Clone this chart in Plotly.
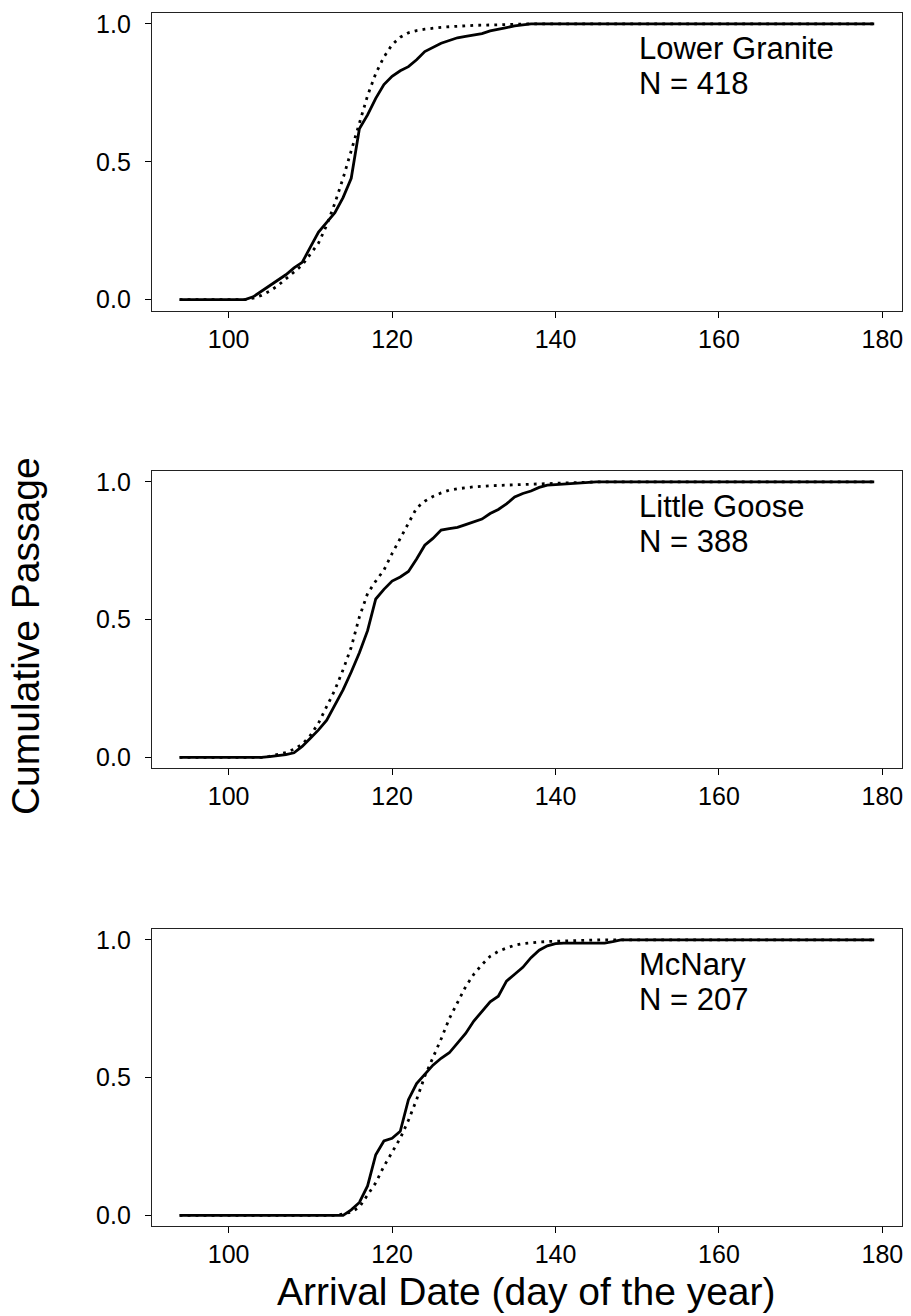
import plotly.graph_objects as go

# ---------------- data ----------------
stations = ["Lower Granite", "Little Goose", "McNary"]
sample_sizes = [418, 388, 207]

# Lower Granite
lg_obs_days = [94, 102, 103, 104, 105, 106, 107, 108, 109, 110, 111, 112, 113, 114, 115, 116,
               117, 118, 119, 120, 121, 122, 123, 124, 125, 126, 127, 128, 129, 130, 131, 132,
               133, 134, 135, 136, 137, 179]
lg_obs = [0, 0, 0.01, 0.03, 0.05, 0.07, 0.09, 0.115, 0.135, 0.19, 0.245, 0.28, 0.315, 0.37, 0.44,
          0.62, 0.67, 0.73, 0.78, 0.81, 0.83, 0.845, 0.87, 0.9, 0.915, 0.93, 0.94, 0.95, 0.955,
          0.96, 0.965, 0.975, 0.98, 0.987, 0.993, 0.997, 1.0, 1.0]
lg_fit_days = [94, 102, 103, 104, 105, 106, 107, 108, 109, 110, 111, 112, 113, 114, 115, 116,
               117, 118, 119, 120, 121, 122, 123, 124, 125, 126, 127, 128, 130, 133, 136, 179]
lg_fit = [0, 0, 0.005, 0.015, 0.03, 0.05, 0.075, 0.1, 0.125, 0.165, 0.205, 0.27, 0.35, 0.44,
          0.54, 0.645, 0.74, 0.82, 0.88, 0.925, 0.952, 0.968, 0.976, 0.981, 0.985, 0.988, 0.99,
          0.992, 0.995, 0.997, 1.0, 1.0]

# Little Goose
lgo_obs_days = [94, 104, 105, 106, 107, 108, 109, 110, 111, 112, 113, 114, 115, 116, 117, 118,
                119, 120, 121, 122, 123, 124, 125, 126, 127, 128, 129, 130, 131, 132, 133, 134,
                135, 136, 137, 138, 139, 140, 141, 142, 143, 144, 145, 179]
lgo_obs = [0, 0, 0.003, 0.006, 0.01, 0.017, 0.04, 0.07, 0.1, 0.135, 0.19, 0.245, 0.31, 0.38,
           0.46, 0.575, 0.61, 0.64, 0.655, 0.675, 0.72, 0.77, 0.795, 0.825, 0.83, 0.835, 0.845,
           0.855, 0.865, 0.885, 0.9, 0.92, 0.945, 0.958, 0.967, 0.98, 0.988, 0.99, 0.992, 0.996,
           0.998, 0.999, 1.0, 1.0]
lgo_fit_days = [94, 104, 105, 106, 107, 108, 109, 110, 111, 112, 113, 114, 115, 116, 117, 118,
                119, 120, 121, 122, 123, 124, 125, 126, 127, 128, 129, 130, 132, 135, 139, 142,
                145, 179]
lgo_fit = [0, 0, 0.004, 0.01, 0.018, 0.03, 0.048, 0.08, 0.125, 0.185, 0.245, 0.318, 0.4, 0.51,
           0.595, 0.64, 0.68, 0.74, 0.795, 0.855, 0.905, 0.93, 0.947, 0.96, 0.97, 0.975, 0.979,
           0.982, 0.986, 0.99, 0.994, 0.997, 1.0, 1.0]

# McNary
mc_obs_days = [94, 114, 115, 116, 117, 118, 119, 120, 121, 122, 123, 124, 125, 126, 127, 128,
               129, 130, 131, 132, 133, 134, 135, 136, 137, 138, 139, 140, 141, 146, 147, 148, 179]
mc_obs = [0, 0, 0.02, 0.047, 0.107, 0.22, 0.27, 0.28, 0.305, 0.42, 0.478, 0.51, 0.545, 0.57,
          0.59, 0.625, 0.66, 0.705, 0.74, 0.775, 0.795, 0.85, 0.875, 0.9, 0.935, 0.962, 0.978,
          0.986, 0.988, 0.988, 0.993, 1.0, 1.0]
mc_fit_days = [94, 113, 114, 115, 116, 117, 118, 119, 120, 121, 122, 123, 124, 125, 126, 127,
               128, 129, 130, 131, 132, 133, 134, 135, 136, 137, 138, 140, 143, 146, 179]
mc_fit = [0, 0, 0.005, 0.012, 0.03, 0.075, 0.118, 0.178, 0.228, 0.28, 0.345, 0.42, 0.505, 0.57,
          0.64, 0.714, 0.775, 0.83, 0.875, 0.91, 0.94, 0.958, 0.97, 0.98, 0.986, 0.99, 0.992,
          0.995, 0.998, 1.0, 1.0]

x_ticks = [100, 120, 140, 160, 180]
y_ticks = [0, 0.5, 1.0]
y_ticktext = ["0.0", "0.5", "1.0"]

panels = [
    (lg_obs_days, lg_obs, lg_fit_days, lg_fit),
    (lgo_obs_days, lgo_obs, lgo_fit_days, lgo_fit),
    (mc_obs_days, mc_obs, mc_fit_days, mc_fit),
]

# ---------------- figure ----------------
W, H = 911, 1316
FONT = "Liberation Sans, Arial, Helvetica, sans-serif"

fig = go.Figure()

# box positions in pixels (left, right, top, bottom)
box_left, box_right = 152, 903
box_tops = [10, 470, 930]
box_h = 299

for i, (od, ov, fd, fv) in enumerate(panels):
    ax = "" if i == 0 else str(i + 1)
    fig.add_trace(go.Scatter(x=od, y=ov, mode="lines", xaxis="x" + ax, yaxis="y" + ax,
                             line=dict(color="black", width=2.8), showlegend=False))
    fig.add_trace(go.Scatter(x=fd, y=fv, mode="lines", xaxis="x" + ax, yaxis="y" + ax,
                             line=dict(color="black", width=2.8, dash="2.8px,5.2px"),
                             showlegend=False))
    top = box_tops[i]
    bottom = top + box_h
    axis_common = dict(showline=True, mirror=True, linecolor="#222222", linewidth=1,
                       showgrid=False, zeroline=False, ticks="outside", ticklen=6,
                       tickwidth=1, tickcolor="black",
                       tickfont=dict(family=FONT, size=25, color="black"))
    fig.update_layout(**{
        "xaxis" + ax: dict(domain=[box_left / W, box_right / W], range=[90.6, 182.4],
                           tickvals=x_ticks, anchor="y" + ax, ticklabelstandoff=0,
                           **axis_common),
        "yaxis" + ax: dict(domain=[1 - bottom / H, 1 - top / H], range=[-0.04, 1.04],
                           tickvals=y_ticks, ticktext=y_ticktext, anchor="x" + ax,
                           ticklabelstandoff=9, **axis_common),
    })
    fig.add_annotation(x=150, y=0.912, xref="x" + ax, yref="y" + ax, xanchor="left",
                       yanchor="middle", showarrow=False, text=stations[i],
                       font=dict(family=FONT, size=31, color="black"))
    fig.add_annotation(x=150, y=0.785, xref="x" + ax, yref="y" + ax, xanchor="left",
                       yanchor="middle", showarrow=False, text=f"N = {sample_sizes[i]}",
                       font=dict(family=FONT, size=31, color="black"))

fig.add_annotation(x=25 / W, y=1 - 636 / H, xref="paper", yref="paper", xanchor="center",
                   yanchor="middle", textangle=-90, showarrow=False,
                   text="Cumulative Passage", font=dict(family=FONT, size=39, color="black"))
fig.add_annotation(x=527 / W, y=1 - 1294 / H, xref="paper", yref="paper", xanchor="center",
                   yanchor="middle", showarrow=False,
                   text="Arrival Date (day of the year)",
                   font=dict(family=FONT, size=39, color="black"))

fig.update_layout(width=W, height=H, margin=dict(l=0, r=0, t=0, b=0),
                  paper_bgcolor="white", plot_bgcolor="white", showlegend=False)

fig.write_html("out.html", config={"displayModeBar": False},
               post_script="document.body.style.margin='0';"
                           "document.body.style.overflow='hidden';")
